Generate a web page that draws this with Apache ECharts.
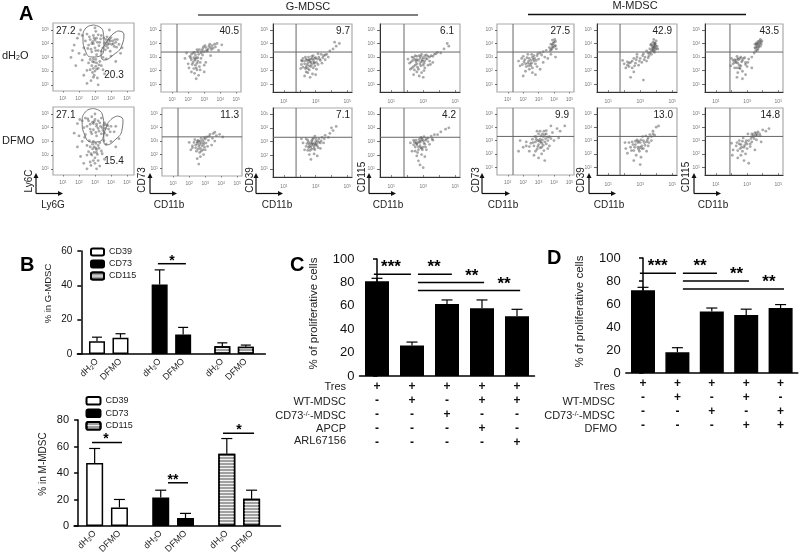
<!DOCTYPE html>
<html><head><meta charset="utf-8">
<style>html,body{margin:0;padding:0;background:#fff}#c{width:800px;height:556px}</style>
<script src="https://cdn.jsdelivr.net/npm/echarts@6/dist/echarts.min.js"></script></head>
<body><div id="c"></div>
<script>
// ---------- DATA ----------
const bCats = ['','','dH{s|2}O','','','DFMO','','','','','dH{s|2}O','','','DFMO','','','','','dH{s|2}O','','','DFMO','','','',''];
const gCD39 = {2:7.5,5:9.5},  gCD73 = {10:40.5,13:11.3},  gCD115 = {18:4.5,21:4.2};
const gErr  = [[2,7.5,9.8],[5,9.5,11.8],[10,40.5,49],[13,11.3,15.5],[18,4.5,6.5],[21,4.2,5.2]];
const mCD39 = {2:47.5,5:14},  mCD73 = {10:21.5,13:6},     mCD115 = {18:54.5,21:20.5};
const mErr  = [[2,47.5,58.5],[5,14,20],[10,21.5,27],[13,6,9.5],[18,54.5,66],[21,20.5,27]];
const cVals = [81,26,61.5,58,51],      cTops = [83.5,29,65,65,57];
const dVals = [72,18,53.5,50.5,56.5],  dTops = [74.5,22,56.5,55.5,59.5];
const cRows = ['+ - - - -','+ + - - -','+ - + - -','+ + - + -','+ + - - +'];
const dRows = ['+ - - -','+ + - -','+ - + -','+ + - +','+ - + +'];
// brackets: from, to, level
const gBr = [[9.78,13.35,52.6]], gStars=[[11.56,'*']];
const mBr = [[1.68,5.31,63],[10.88,13.3,32.6],[17.54,21.3,70]];
const mStars = [[3.37,'*',63],[11.49,'**',32.6],[19.48,'*',70]];
const cBr = [[-.09,.97,87],[1.17,2.14,87],[1.17,3.06,80],[1.17,4.09,73]];
const cStars = [[.4,'***',87],[1.63,'**',87],[2.71,'**',80],[3.63,'**',73]];
const dBr = [[-.09,.96,86.7],[1.16,2.15,86.7],[1.16,3.08,80],[1.16,4.1,73]];
const dStars = [[.43,'***',86.7],[1.66,'**',86.7],[2.72,'**',80],[3.66,'**',73]];
// flow cytometry: pairs of log10 values
const a1 = [2.9,4.6,2.7,4.3,3.1,4.4,2.6,3.9,3.0,3.7,3.3,4.1,2.8,3.4,2.5,4.7,3.2,3.5,2.9,4.0,3.4,4.6,2.4,4.2,3.05,4.9,2.75,3.6,3.25,3.85,2.85,4.15,3.5,3.7,3.1,3.2,3.7,4.3,3.9,4.0,4.1,4.2,3.8,3.7,4.3,4.1,4.0,4.45,3.6,4.05,4.2,3.8,4.4,4.3,3.85,4.25,3.65,3.55,4.05,3.95,4.5,3.95,3.95,3.45,2.9,2.9,3.1,2.6,2.8,2.4,3.2,2.2,3.0,2.0,2.7,2.1,3.3,2.7,2.95,1.7,2.6,2.6,3.15,1.5,2.85,1.9,3.4,2.4,2.75,1.3,3.05,2.35,1.9,4.4,2.0,3.3,1.7,3.9,2.2,2.8,1.5,3.0,2.1,5.0,3.7,2.9,4.0,3.1,4.6,3.3,3.6,1.8,2.3,1.7,3.2,1.0,1.8,2.4,4.3,2.7,3.9,5.0,2.5,1.1,
 3.0,4.25,3.15,4.1,2.8,4.0,2.65,4.5,3.35,4.35,3.2,4.65,2.55,3.65,3.05,3.5,3.4,3.45,2.95,4.4,3.75,4.1,3.8,3.95,3.95,4.2,4.15,4.0,3.7,3.85,4.25,4.3,4.35,3.75,3.55,4.4,3.9,4.35,3.75,4.5,2.95,2.65,3.05,2.85,2.85,2.7,3.25,2.45,2.9,2.2,3.1,2.15,2.7,2.85,2.35,3.2,2.2,4.6,2.3,3.7,3.5,3.0,2.0,4.7,3.5,2.1,2.5,2.05,2.9,1.55,1.6,3.5,4.7,3.7,3.0,5.15];
const a2 = [2.8,4.8,2.6,4.5,3.0,4.6,2.5,4.1,3.1,4.1,3.3,4.35,2.75,3.7,2.4,4.7,3.25,3.75,2.9,4.3,3.4,4.7,2.3,4.0,3.0,5.0,2.7,3.9,3.2,3.95,2.85,4.4,3.5,3.8,3.1,3.4,3.7,4.2,3.85,3.9,4.0,4.1,3.6,3.6,4.2,3.7,3.55,4.2,4.3,4.1,3.75,3.45,2.9,3.0,3.2,2.7,2.7,2.6,3.1,2.4,2.95,2.2,2.6,2.25,3.3,2.9,3.0,1.8,2.5,2.7,3.2,1.6,2.8,2.0,3.4,2.3,2.7,1.5,3.05,2.5,2.85,2.8,3.15,2.05,1.9,4.3,2.0,3.4,1.7,3.6,2.2,3.0,2.1,1.9,3.7,2.8,4.0,3.0,4.5,3.2,3.6,1.7,2.3,1.4,3.1,1.0,1.9,2.6,4.3,2.6,3.3,1.2,2.5,1.0,
 2.95,4.45,3.1,4.25,2.7,4.25,2.55,4.65,3.35,4.1,3.2,4.5,2.8,3.55,3.05,3.65,3.4,3.55,2.9,3.85,3.65,3.95,3.8,4.15,3.45,4.0,3.6,4.35,3.95,3.7,2.95,2.6,3.05,2.85,2.85,2.45,3.25,2.5,2.75,2.1,3.1,2.2,2.65,3.05,2.35,3.3,2.2,4.5,2.4,3.5,3.55,3.05,2.05,4.6,3.45,2.1,2.5,2.0,2.9,1.6,2.75,1.25,3.0,1.4];
const p21 = [2.2,3.2,2.6,3.4,2.9,3.6,3.1,3.7,3.3,3.8,3.5,3.85,2.7,3.55,3.0,3.4,2.4,3.35,2.1,3.05,2.5,2.95,2.3,2.6,2.6,2.7,2.2,2.8,2.45,2.4,2.35,2.15,2.7,2.3,2.0,2.5,2.55,2.05,2.8,2.9,2.9,3.15,3.2,3.45,3.65,3.95,3.8,4.0,3.45,3.55,2.05,2.2,2.4,1.8,2.65,1.65,2.2,1.9,1.8,2.9,1.9,3.3,3.1,2.6,3.4,3.1,3.9,3.5,4.1,3.9,2.5,1.4,3.0,1.9,
 3.05,3.85,3.25,3.6,3.4,3.7,2.85,3.45,3.55,3.65,2.95,3.75,3.15,3.5,2.65,3.2,2.8,3.3,2.45,3.15,2.35,2.95,2.55,2.55,2.4,2.75,2.25,2.45,2.5,2.2,2.75,2.6,2.15,2.95,2.6,2.95,2.3,3.3,2.75,2.05,3.0,2.4,3.7,3.75,3.35,3.95,2.55,3.55,2.45,2.85];
const p22 = [2.7,3.0,2.5,2.8,2.9,2.9,2.6,2.6,2.3,2.9,2.8,2.65,3.0,3.15,2.4,2.5,2.2,2.65,2.75,3.2,3.1,3.3,2.55,3.05,2.85,2.35,2.65,2.15,2.45,2.25,3.2,3.05,3.3,3.5,3.5,3.55,3.7,3.4,2.95,2.55,2.1,2.35,2.7,1.85,2.5,1.7,2.9,2.0,3.4,2.7,3.9,3.5,4.1,3.3,2.6,1.3,2.0,2.9,3.6,3.0,
 2.75,2.85,2.6,2.95,2.85,3.05,2.65,2.75,2.5,2.95,2.9,2.75,3.05,2.85,2.4,2.7,2.7,2.45,2.55,2.4,2.95,3.25,2.35,3.1,3.15,2.6,3.25,3.35,2.75,2.25,2.2,2.5,3.0,2.35,3.6,3.65,3.45,3.2];
const p31 = [2.6,2.8,2.3,2.7,2.8,2.9,2.5,2.55,2.9,2.6,2.2,2.9,2.7,2.3,3.1,2.85,2.4,2.25,2.95,2.35,3.2,3.0,2.1,2.45,2.6,2.05,3.3,2.75,2.35,3.0,2.75,3.05,3.5,3.1,3.4,2.55,2.05,2.15,2.5,1.85,2.8,1.75,3.05,2.1,3.7,3.2,3.9,3.45,3.6,2.8,3.8,3.0,2.65,1.5,2.3,1.6,2.9,2.55,2.45,2.75,2.55,3.0,4.1,3.6,4.3,3.8,4.5,4.0,4.2,4.1,3.15,3.25,2.1,2.75,3.0,1.7,2.7,2.6,
 2.65,2.65,2.4,2.85,2.85,2.75,2.55,2.75,2.95,2.9,2.3,2.5,2.75,2.45,3.05,2.6,2.45,2.4,2.6,2.35,3.25,2.85,2.15,2.7,2.35,2.15,3.45,2.95,3.6,3.15,2.85,2.2,2.5,2.15,3.0,2.95,2.7,2.85,2.2,2.25,3.35,3.2,2.4,1.9,3.15,2.45,2.85,3.1];
const p32 = [2.8,2.9,2.6,2.8,3.0,3.0,2.7,2.6,3.1,2.7,2.5,3.1,2.9,2.5,3.2,3.2,2.85,3.25,2.4,2.65,3.3,2.9,2.95,2.4,2.65,2.35,3.05,2.85,2.75,3.05,3.4,3.3,3.6,3.45,3.8,3.3,3.5,2.9,2.2,2.9,2.3,2.4,2.9,2.1,3.1,1.95,2.6,2.05,3.9,3.6,4.1,3.8,4.3,4.1,4.0,4.0,2.7,1.7,2.1,3.2,3.3,2.5,2.95,3.4,2.55,2.55,
 2.85,2.8,2.7,2.9,2.95,2.85,2.6,2.65,3.0,2.75,2.75,2.75,2.9,2.65,3.1,3.05,2.55,2.95,3.2,2.95,2.8,3.15,3.0,3.2,2.45,2.85,2.75,2.45,3.15,2.55,3.35,3.05,2.4,3.2,2.5,2.35,3.55,3.2];
const p41 = [2.8,2.9,2.5,2.8,3.0,2.95,2.6,2.5,3.1,2.7,2.3,3.0,2.85,2.35,3.3,3.05,2.4,2.3,3.0,2.4,3.5,3.1,2.15,2.55,2.7,2.1,3.4,2.7,2.5,3.1,2.9,3.2,3.7,3.2,3.2,3.15,2.75,3.1,3.9,3.35,4.1,3.3,2.2,2.1,2.6,1.9,2.9,1.85,3.1,2.2,3.6,2.6,2.75,1.6,2.4,1.7,3.0,1.5,2.05,2.85,4.3,3.6,4.5,4.0,4.6,3.8,2.95,2.7,2.6,3.05,3.3,2.4,
 2.7,2.75,2.4,2.95,2.95,2.8,2.55,2.65,3.15,2.9,2.25,2.65,2.8,2.5,3.25,2.85,2.5,2.4,3.05,2.55,3.4,3.0,2.3,2.2,2.65,2.25,3.6,3.05,2.85,3.05,3.1,3.1,3.8,3.25,2.45,2.05,3.45,2.45,3.05,2.0,2.6,2.8,2.85,2.65,2.35,2.75];
const p42 = [2.8,2.95,2.6,2.85,3.0,3.05,2.7,2.6,3.1,2.8,2.4,3.1,2.9,2.5,3.2,3.2,2.85,3.3,2.5,2.6,3.3,3.0,2.95,2.4,2.65,2.2,3.05,3.35,2.75,3.15,3.5,3.4,3.7,3.5,3.9,3.5,3.4,2.8,2.2,2.9,2.3,2.3,2.9,2.05,3.1,1.9,2.6,1.95,4.1,3.7,4.4,3.9,4.6,4.0,2.7,1.6,2.8,1.3,3.0,1.1,3.6,3.1,2.55,2.9,3.15,2.6,
 2.85,3.05,2.7,2.95,2.95,3.15,2.6,2.75,3.05,2.9,2.45,2.95,2.8,2.7,3.15,3.1,2.9,3.25,2.55,3.1,3.3,3.25,2.7,2.4,2.85,2.55,3.0,2.6,2.4,2.75,3.55,3.2,2.5,2.3,3.2,2.4];
const p51 = [2.4,2.9,2.1,2.8,2.6,3.0,2.3,2.55,2.7,2.7,1.9,2.9,2.5,2.35,2.9,3.1,2.2,2.3,2.8,2.5,3.1,3.3,1.7,2.7,2.4,2.1,3.3,3.4,2.0,3.05,2.55,3.2,3.5,3.5,3.0,2.85,1.8,2.35,2.15,1.95,2.6,1.85,3.3,2.6,3.6,2.9,3.8,3.6,3.9,3.9,4.0,4.1,3.95,3.7,4.1,3.85,3.85,3.55,4.05,4.3,3.7,3.7,3.9,4.25,4.15,3.6,3.8,3.2,4.1,3.0,2.3,3.2,2.8,1.7,2.0,1.6,3.1,2.1,
 2.5,2.75,2.25,2.95,2.65,2.85,2.35,2.7,2.75,2.9,2.05,2.65,2.45,2.5,2.85,2.75,2.15,2.5,2.95,3.25,2.55,2.55,2.7,3.1,2.35,2.35,3.2,3.15,1.95,2.45,3.4,3.0,3.95,4.0,4.05,3.8,3.9,3.75,3.8,3.95,4.1,4.15,3.75,3.45,2.6,2.2,2.9,2.3];
const p52 = [3.1,3.1,2.8,2.9,3.3,3.3,3.0,2.7,3.4,2.9,2.6,3.1,3.2,2.5,3.5,3.5,3.0,3.5,2.7,2.6,3.6,3.0,2.9,2.35,3.15,2.9,3.35,3.7,2.5,2.8,3.7,3.3,3.9,3.6,4.2,3.9,4.4,3.7,4.7,4.1,2.2,2.9,2.0,2.5,1.8,3.0,2.4,2.2,1.7,2.2,3.2,2.0,3.6,2.4,4.0,3.0,3.0,1.7,2.7,1.9,3.4,1.5,4.3,3.2,3.8,4.1,2.85,3.3,3.1,3.7,3.5,2.75,3.25,3.05,2.95,3.0,
 3.05,2.95,2.85,3.1,3.2,2.8,2.95,2.55,3.3,2.65,2.65,2.85,3.45,3.15,3.1,2.45,3.6,3.25,3.25,3.5,2.75,3.3,3.5,3.75,3.8,3.15,2.4,2.55,2.2,2.6,3.7,2.6,3.35,2.25,2.8,2.2,2.9,3.7,3.15,3.35,3.4,3.45];
const p61 = [2.0,2.5,2.2,2.65,2.4,2.6,2.6,2.9,2.8,3.0,2.3,2.3,2.7,2.55,3.0,2.9,3.2,3.25,3.3,3.0,3.5,3.3,3.6,3.6,3.7,3.45,3.75,3.8,3.85,3.65,3.9,3.95,3.95,3.55,4.0,4.2,3.8,4.1,4.05,3.8,3.65,3.9,3.9,3.35,4.1,3.6,3.85,4.3,3.7,3.2,3.95,4.0,3.8,3.5,2.5,2.2,2.1,2.2,2.9,2.4,3.4,2.7,3.1,2.6,2.6,1.9,2.4,1.5,3.2,1.3,2.8,3.2,1.9,2.75,3.5,2.95,
 3.8,3.7,3.9,3.75,3.85,3.85,3.95,3.85,3.75,3.6,4.0,3.65,3.85,3.45,3.9,4.05,3.7,3.95,3.6,3.3,3.4,3.45,3.15,3.1,2.95,2.7,2.75,2.8,2.5,2.7,2.3,2.55,2.65,2.35,2.2,2.4,3.25,2.8,3.55,3.1];
const p62 = [3.0,2.85,2.7,2.7,3.2,3.0,2.85,2.5,3.4,2.9,2.5,2.9,3.1,2.4,3.5,3.2,2.8,3.05,2.4,2.5,3.6,3.45,2.95,2.2,3.3,2.65,2.3,2.85,2.6,2.25,3.7,3.0,3.8,3.7,4.0,4.0,3.9,3.4,4.15,4.1,2.1,2.4,2.2,2.05,2.75,1.9,3.05,1.75,2.6,1.5,3.4,2.2,3.0,1.2,3.5,2.6,2.05,2.85,3.15,3.3,2.9,2.95,
 3.05,3.05,2.85,2.85,3.25,2.85,2.7,2.95,3.45,3.05,2.55,2.7,3.1,2.6,3.55,2.85,3.7,3.3,3.35,3.35,2.9,2.35,3.0,2.5,3.8,3.5,2.45,2.25,3.2,2.4,2.65,2.5];
const p71 = [3.5,3.7,3.7,4.0,3.8,4.2,3.6,3.85,3.9,3.95,3.65,3.5,3.75,3.75,3.85,4.3,3.55,3.45,3.95,4.2,3.7,4.15,3.5,3.95,3.45,3.3,3.3,3.0,2.4,2.9,2.2,2.8,2.6,3.0,2.3,2.6,2.7,2.75,2.0,2.9,2.5,2.4,2.85,2.95,2.1,2.5,2.35,3.05,2.9,2.6,3.1,2.85,2.55,2.15,2.2,2.2,1.95,2.35,2.4,1.85,2.7,1.95,3.0,2.3,2.35,1.5,2.7,1.4,2.9,1.7,3.3,2.2,
 3.6,3.95,3.75,3.9,3.65,3.75,3.8,4.05,3.85,3.8,3.7,3.6,3.55,3.65,3.9,4.1,3.6,4.05,2.45,2.8,2.3,2.75,2.55,2.9,2.65,2.65,2.2,2.6,2.4,2.55,2.75,2.9,2.1,2.75,2.5,2.2,2.6,2.35,2.35,2.2,2.9,2.45,3.05,2.6];
const p72 = [2.9,2.85,2.6,2.7,3.1,3.0,2.8,2.5,3.3,3.3,2.5,3.0,3.4,3.45,2.3,2.6,3.5,3.6,3.2,2.75,3.65,3.4,2.7,2.2,2.4,2.25,3.0,2.4,3.8,3.5,3.6,3.05,4.0,3.8,4.2,3.7,4.4,3.9,2.0,2.8,2.1,2.3,2.6,1.9,2.9,2.0,2.4,1.7,3.5,2.3,3.9,2.9,2.8,1.5,3.1,1.3,2.05,1.9,3.3,2.9,2.75,3.2,3.05,3.5,
 3.4,3.3,3.55,3.4,3.6,3.55,3.3,3.5,3.7,3.65,3.45,3.15,3.25,3.15,2.95,3.0,2.7,2.95,2.85,2.65,2.5,2.75,2.35,2.85,3.0,2.75,3.2,2.55,2.55,2.4,2.65,2.5,3.85,3.35];
const ell1 = [[2.94,5.36],[3.5,4.93],[3.56,3.98],[3.31,3.1],[2.81,3.03],[2.38,3.54],[2.25,4.42],[2.44,5.15],[2.94,5.36]];
const ell2 = [[4.44,4.93],[4.81,4.71],[4.69,3.9],[4.06,3.1],[3.56,2.81],[3.38,3.25],[3.69,4.05],[4.06,4.64],[4.44,4.93]];
const ell3 = [[2.9,5.4],[3.45,5.0],[3.55,4.0],[3.3,3.0],[2.8,2.95],[2.35,3.5],[2.2,4.4],[2.4,5.15],[2.9,5.4]];
const ell4 = [[4.4,4.85],[4.75,4.6],[4.7,3.9],[4.2,3.05],[3.7,2.75],[3.55,3.2],[3.7,4.0],[4.0,4.6],[4.4,4.85]];
const pctTop = ['27.2','40.5','9.7','6.1','27.5','42.9','43.5'];
const pctBot = ['27.1','11.3','7.1','4.2','9.9','13.0','14.8'];
const gateX = [1.3,1.76,1.8,1.34,1.74,1.9];
const decades = [1,2,3,4,5], oddDecades = [1,3,5];

// ---------- helpers ----------
const F = 'Liberation Sans, Arial, sans-serif';
const pairs = a => { const o=[]; for(let i=0;i<a.length;i+=2) o.push([a[i],a[i+1]]); return o; };
const sup = {s:{fontSize:3.5,verticalAlign:'top',lineHeight:5,color:'#777',fontFamily:F}};
const grid=[],xAxis=[],yAxis=[],series=[],graphic=[];
function txt(x,y,t,o={}){graphic.push({type:'text',x,y,silent:true,z:50,rotation:o.rot||0,style:{text:t,fill:o.fill||'#222',
  font:(o.bold?'bold ':'')+(o.size||10)+'px '+F,fontFamily:F,fontSize:o.size||10,fontWeight:o.bold?'bold':'normal',
  textAlign:o.align||'left',textVerticalAlign:'middle',verticalAlign:'middle',rich:o.rich}});}
function seg(x1,y1,x2,y2,c,w){graphic.push({type:'line',silent:true,z:40,shape:{x1,y1,x2,y2},style:{stroke:c||'#111',lineWidth:w||1.2}});}
function arrow(x,y,top,right){seg(x,y,x,top+3);seg(x,y,right-3,y);
  graphic.push({type:'polygon',silent:true,z:40,shape:{points:[[x,top],[x-2.5,top+5],[x+2.5,top+5]]},style:{fill:'#111'}});
  graphic.push({type:'polygon',silent:true,z:40,shape:{points:[[right,y],[right-5,y-2.5],[right-5,y+2.5]]},style:{fill:'#111'}});}

function flow(rect,o){
  const g=xAxis.length;
  grid.push({left:rect[0],top:rect[1],width:rect[2]-rect[0],height:rect[3]-rect[1],show:true,borderColor:'#aaa',borderWidth:1.2,backgroundColor:'#fff'});
  const gi=grid.length-1, dark=o.dark, xv=dark?oddDecades:decades;
  xAxis.push({gridIndex:gi,type:'value',min:o.xr[0],max:o.xr[1],splitLine:{show:false},
    axisLine:{show:!!dark,lineStyle:{color:'#333',width:1}},
    axisTick:{show:true,inside:!!dark,length:dark?2:1.5,customValues:decades,lineStyle:{color:'#555',width:.7}},
    axisLabel:{show:true,customValues:xv,fontSize:5,color:'#777',fontFamily:F,margin:dark?7:5,rich:sup,formatter:v=>'10{s|'+v+'}'}});
  yAxis.push({gridIndex:gi,type:'value',min:o.yr[0],max:o.yr[1],splitLine:{show:false},
    axisLine:{show:!!dark,lineStyle:{color:'#333',width:1}},
    axisTick:{show:true,length:dark?3:2,customValues:decades,lineStyle:{color:'#444',width:.8}},
    axisLabel:{show:true,customValues:decades,fontSize:5,color:'#777',fontFamily:F,margin:dark?5:4,rich:sup,formatter:v=>'10{s|'+v+'}'}});
  series.push({type:'scatter',xAxisIndex:g,yAxisIndex:g,data:pairs(o.pts),symbolSize:2.8,silent:true,itemStyle:{color:'#333',opacity:.42},clip:true,z:2});
  (o.lines||[]).forEach(l=>series.push({type:'line',xAxisIndex:g,yAxisIndex:g,data:l,showSymbol:false,silent:true,smooth:o.smooth?.55:false,
     lineStyle:{color:'#666',width:o.smooth?.9:1},z:3}));
}
function quad(xg,yg){return [[[xg,.42],[xg,5.44]],[[.3,yg],[5.3,yg]]];}
const XR=[.3,5.3],YR=[.42,5.44];

function panelPair(rectTop,rectBot,ptsT,ptsB,xg,dark){
  flow(rectTop,{xr:XR,yr:YR,pts:ptsT,lines:quad(xg,3.37),dark});
  flow(rectBot,{xr:XR,yr:YR,pts:ptsB,lines:quad(xg,3.31),dark});
}
flow([53,23,134,91],{xr:[.375,5.44],yr:[.55,5.51],pts:a1,lines:[ell1,ell2],smooth:true});
flow([53,107,134,175],{xr:[.375,5.44],yr:[.55,5.51],pts:a2,lines:[ell3,ell4],smooth:true});
panelPair([161,24,241,92],[162,108,242,176],p21,p22,gateX[0],false);
panelPair([273,24,352,92],[273,108,352,177],p31,p32,gateX[1],true);
panelPair([380,24,460,92],[380,108,460,177],p41,p42,gateX[2],true);
panelPair([497,24,574,92],[497,108,574,175],p51,p52,gateX[3],false);
panelPair([597,24,677,92],[597,108,677,175],p61,p62,gateX[4],true);
panelPair([705,24,783,92],[705,108,783,175],p71,p72,gateX[5],true);

// Bars
const errRender = capHalf => (params,api)=>{
  const x=api.value(0); const a=api.coord([x,api.value(1)]), b=api.coord([x,api.value(2)]);
  const st={stroke:'#000',lineWidth:1.2,fill:null};
  return {type:'group',children:[
    {type:'line',shape:{x1:a[0],y1:a[1],x2:b[0],y2:b[1]},style:st},
    {type:'line',shape:{x1:b[0]-capHalf,y1:b[1],x2:b[0]+capHalf,y2:b[1]},style:st}]};
};
const brRender = w => (params,api)=>{
  const a=api.coord([api.value(0),api.value(2)]), b=api.coord([api.value(1),api.value(2)]);
  return {type:'line',shape:{x1:a[0],y1:a[1],x2:b[0],y2:b[1]},style:{stroke:'#000',lineWidth:w}};
};
function starSeries(g,arr,dy,fs){
  series.push({type:'custom',xAxisIndex:g+1,yAxisIndex:g,silent:true,z:6,data:arr.map(s=>[s[0],s[2]]),
    encode:{x:0,y:1},
    renderItem:(p,api)=>{const c=api.coord([api.value(0),api.value(1)]);
      return {type:'text',x:c[0],y:c[1]+dy,style:{text:arr[p.dataIndex][1],font:'bold '+fs+'px '+F,fontFamily:F,fontSize:fs,fontWeight:'bold',fill:'#000',textAlign:'center',textVerticalAlign:'bottom',verticalAlign:'bottom'}};}});
}
function barGrid(o){
  const g=xAxis.length; // g = category axis, g+1 = hidden value axis
  grid.push({left:o.left,top:o.top,width:o.width,height:o.height});
  const gi=grid.length-1;
  xAxis.push({gridIndex:gi,type:'category',data:o.cats,axisTick:{show:false},
    axisLine:{lineStyle:{color:'#000',width:1.5}},
    axisLabel:Object.assign({interval:0,fontFamily:F,color:'#222'},o.xLabel)});
  xAxis.push({gridIndex:gi,type:'value',min:-.5,max:o.cats.length-.5,show:false,splitLine:{show:false}});
  yAxis.push({gridIndex:gi,type:'value',min:0,max:o.max,interval:o.step,splitLine:{show:false},
    name:o.name,nameLocation:'middle',nameGap:o.nameGap,nameTextStyle:{fontSize:o.nameSize,fontFamily:F,color:'#222',padding:[0,0,0,o.namePad]},
    axisLine:{show:true,lineStyle:{color:'#000',width:1.5}},axisTick:{show:true,length:4,lineStyle:{color:'#000',width:1.5}},
    axisLabel:{fontSize:o.fs,fontFamily:F,color:'#111',margin:5}});
  yAxis.push({gridIndex:gi,type:'value',min:0,max:o.max,show:false,splitLine:{show:false}});
  o.bars.forEach(b=>series.push({type:'bar',name:b.name,xAxisIndex:g,yAxisIndex:g,data:b.data,barWidth:o.bw,barGap:'-100%',z:4,silent:true,
    itemStyle:b.style}));
  series.push({type:'custom',xAxisIndex:g+1,yAxisIndex:g,silent:true,z:3,data:o.err,encode:{x:0,y:[1,2]},renderItem:errRender(o.cap)});
  series.push({type:'custom',xAxisIndex:g+1,yAxisIndex:g,silent:true,z:6,data:o.br,encode:{x:0,y:2},renderItem:brRender(1.5)});
  starSeries(g,o.stars,o.starDy,o.starFs);
}
const slotData = m => bCats.map((_,i)=> m[i]!==undefined?m[i]:null);
const white={color:'#fff',borderColor:'#000',borderWidth:1.5};
const black={color:'#000',borderColor:'#000',borderWidth:1.5};
const striped={color:'#a0a0a0',borderColor:'#000',borderWidth:1.5,decal:{symbol:'rect',symbolSize:1,dashArrayX:[1,0],dashArrayY:[1,2],color:'#f2f2f2'}};
const rot={rotate:45,fontSize:9,margin:6,rich:{s:{fontSize:6,verticalAlign:'bottom',padding:[4,0,0,0],fontFamily:F,color:'#222'}}};

barGrid({left:77.4,top:251,width:188,height:103,cats:bCats.slice(0,24),max:60,step:20,fs:10,name:'% in G-MDSC',nameSize:9.5,nameGap:24,namePad:18,
  bw:16,cap:5,bars:[{name:'CD39',data:slotData(gCD39).slice(0,24),style:white},{name:'CD73',data:slotData(gCD73).slice(0,24),style:black},{name:'CD115',data:slotData(gCD115).slice(0,24),style:striped}],
  err:gErr,br:gBr,stars:gStars.map(s=>[s[0],s[1],52.6]),starDy:4,starFs:14,xLabel:rot});
barGrid({left:74,top:420,width:206.5,height:108,cats:bCats.slice(0,25),max:80,step:20,fs:11,name:'% in M-MDSC',nameSize:10,nameGap:26,namePad:18,
  bw:17,cap:5.5,bars:[{name:'CD39',data:slotData(mCD39).slice(0,25),style:white},{name:'CD73',data:slotData(mCD73).slice(0,25),style:black},{name:'CD115',data:slotData(mCD115).slice(0,25),style:striped}],
  err:mErr,br:mBr,stars:mStars,starDy:4,starFs:14,xLabel:rot});
const rowLabel = rows => (v,i)=> rows[i].split(' ').join('\n');
const tbl = rows => ({fontSize:12,lineHeight:14,margin:4,fontWeight:'bold',color:'#111',formatter:rowLabel(rows)});
barGrid({left:359.5,top:259,width:175,height:117,cats:['1','2','3','4','5'],max:100,step:20,fs:13,name:'% of proliferative cells',nameSize:11.5,nameGap:40,namePad:8,
  bw:24,cap:5.5,bars:[{data:cVals,style:black}],err:cVals.map((v,i)=>[i,v,cTops[i]]),br:cBr,stars:cStars,starDy:2,starFs:17,xLabel:tbl(cRows)});
barGrid({left:625.8,top:258,width:172,height:115,cats:['1','2','3','4','5'],max:100,step:20,fs:13,name:'% of proliferative cells',nameSize:11.5,nameGap:40,namePad:8,
  bw:24,cap:5.5,bars:[{data:dVals,style:black}],err:dVals.map((v,i)=>[i,v,dTops[i]]),br:dBr,stars:dStars,starDy:2,starFs:17,xLabel:tbl(dRows)});

// Text
txt(19,14,'A',{bold:true,size:20,fill:'#000'});txt(20,265,'B',{bold:true,size:20,fill:'#000'});
txt(290,265,'C',{bold:true,size:20,fill:'#000'});txt(547,258,'D',{bold:true,size:20,fill:'#000'});
txt(308,7,'G-MDSC',{size:11,align:'center'});txt(635,6,'M-MDSC',{size:11,align:'center'});
seg(198,15,418,15,'#555',1.5);seg(528,14.5,746,14.5,'#111',1.3);
const subRich={s:{fontSize:7,verticalAlign:'bottom',padding:[5,0,0,0],fontFamily:F,fill:'#222'}};
txt(2,56,'dH{s|2}O',{size:11,rich:subRich});txt(2,141,'DFMO',{size:11});
const topR=[0,239,350,454,570,672,779], botR=[0,239,350,456,569,673,780];
pctTop.forEach((t,i)=>{ i===0?txt(56,31,t):txt(topR[i],31,t,{align:'right'}); });
pctBot.forEach((t,i)=>{ i===0?txt(56,115,t):txt(botR[i],115,t,{align:'right'}); });
txt(114,75,'20.3',{align:'center'});txt(114,161,'15.4',{align:'center'});
[[36,63,29,53,'Ly6C','Ly6G',181],[150,177,142,169,'CD73','CD11b',180],[256,283,250,277,'CD39','CD11b',180],[369,396,362,388,'CD115','CD11b',177],
 [482,510,476,503,'CD73','CD11b',180],[589,616,581,609,'CD39','CD11b',180],[694,721,686,713,'CD115','CD11b',177]].forEach(k=>{
  arrow(k[0],193.5,173,k[1]);
  txt(k[2],k[6],k[4],{rot:Math.PI/2,align:'center',size:10});
  txt(k[3],205,k[5],{align:'center',size:10});
});
const koRich={s:{fontSize:7,verticalAlign:'top',fill:'#222',fontFamily:F}};
[['Tres',387],['WT-MDSC',402],['CD73{s|-/-}-MDSC',416],['APCP',429],['ARL67156',441]].forEach(r=>txt(346,r[1],r[0],{size:11,align:'right',rich:koRich}));
[['Tres',387,615],['WT-MDSC',402,615],['CD73{s|-/-}-MDSC',416,615],['DFMO',429,617]].forEach(r=>txt(r[2],r[1],r[0],{size:11,align:'right',rich:koRich}));

const option={animation:false,backgroundColor:'#fff',textStyle:{fontFamily:F},grid,xAxis,yAxis,series,graphic,
 legend:[
  {left:90,top:247.5,orient:'vertical',itemWidth:13,itemHeight:7,itemGap:3,selectedMode:false,padding:0,data:['CD39','CD73','CD115'],textStyle:{fontSize:9,fontFamily:F,color:'#222'}},
  {left:85.5,top:396,orient:'vertical',itemWidth:14,itemHeight:7.5,itemGap:3,selectedMode:false,padding:0,data:['CD39','CD73','CD115'],textStyle:{fontSize:9,fontFamily:F,color:'#222'}}
 ]};
echarts.init(document.getElementById('c'),null,{renderer:'canvas'}).setOption(option);
</script></body></html>
